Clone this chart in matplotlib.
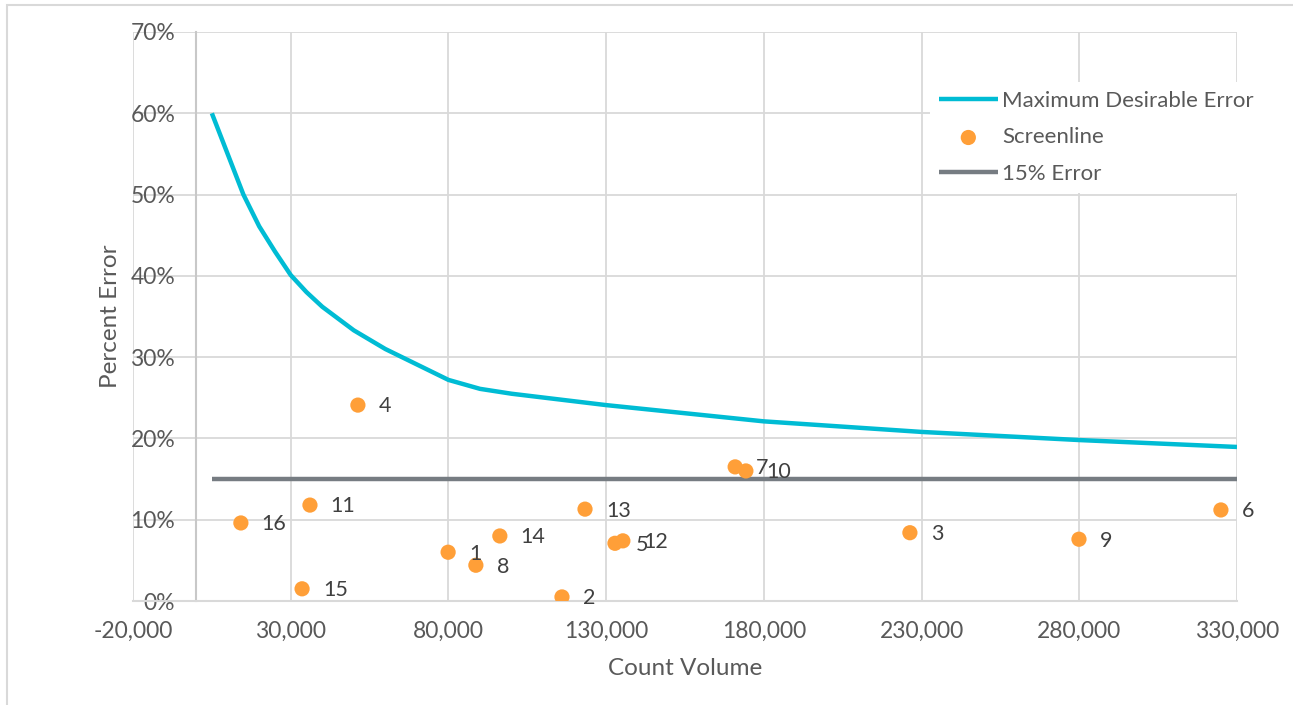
#!/usr/bin/env python3
"""Screenline percent error vs count volume, with the maximum desirable error curve."""

import matplotlib.pyplot as plt
from matplotlib.patches import Rectangle
from matplotlib.ticker import FixedLocator, FuncFormatter, MultipleLocator

plt.rcParams["font.family"] = ["Lato", "DejaVu Sans"]

# Maximum desirable error curve
MDE_VOLUME = [5000, 10000, 15000, 20000, 25000, 30000, 35000, 40000, 50000, 60000,
              70000, 80000, 90000, 100000, 130000, 180000, 230000, 280000, 330000]
MDE_ERROR = [0.600, 0.550, 0.500, 0.461, 0.430, 0.401, 0.380, 0.362, 0.333, 0.310,
             0.291, 0.272, 0.261, 0.255, 0.241, 0.221, 0.208, 0.198, 0.1895]

# 15% error reference line
REF_VOLUME = [5000, 330000]
REF_ERROR = [0.15, 0.15]

# Screenlines
SL_ID = ["1", "2", "3", "4", "5", "6", "7", "8",
         "9", "10", "11", "12", "13", "14", "15", "16"]
SL_VOLUME = [79900, 116000, 226300, 51300, 132800, 324900, 170900, 88700,
             279900, 174300, 36100, 135300, 123300, 96300, 33600, 14200]
SL_ERROR = [0.060, 0.005, 0.084, 0.241, 0.071, 0.112, 0.165, 0.044,
            0.076, 0.160, 0.118, 0.074, 0.113, 0.080, 0.015, 0.096]

X_TICKS = list(range(-20000, 330001, 50000))

CYAN = "#00bcd4"
ORANGE = "#ff9f38"
GREY = "#767c82"
GRID = "#d9d9d9"
TICK_TEXT = "#595959"
LABEL_TEXT = "#404040"


def main():
    fig = plt.figure(figsize=(12.93, 7.05), dpi=100)
    ax = fig.add_axes([133 / 1293, 104 / 705, 1104 / 1293, 569 / 705])

    ax.plot(MDE_VOLUME, MDE_ERROR, color=CYAN, linewidth=3.2,
            solid_capstyle="butt", solid_joinstyle="round",
            label="Maximum Desirable Error", zorder=3)
    ax.scatter(SL_VOLUME, SL_ERROR, s=120, color=ORANGE, edgecolors="none",
               label="Screenline", zorder=4)
    ax.plot(REF_VOLUME, REF_ERROR, color=GREY, linewidth=3.2,
            solid_capstyle="butt", label="15% Error", zorder=3)

    for sid, vol, err in zip(SL_ID, SL_VOLUME, SL_ERROR):
        ax.annotate(sid, (vol, err), xytext=(15, -1), textcoords="offset points",
                    ha="left", va="center", fontsize=15.5, color=LABEL_TEXT, zorder=5)

    ax.set_xlim(-20000, 330000)
    ax.set_ylim(0, 0.70)
    ax.xaxis.set_major_locator(FixedLocator(X_TICKS))
    ax.yaxis.set_major_locator(MultipleLocator(0.10))
    ax.xaxis.set_major_formatter(FuncFormatter(lambda v, _: f"{v:,.0f}"))
    ax.yaxis.set_major_formatter(FuncFormatter(lambda v, _: f"{v * 100:.0f}%"))
    ax.grid(True, color=GRID, linewidth=1.3)
    ax.set_axisbelow(True)

    for side in ("top", "right"):
        ax.spines[side].set_visible(False)
    ax.spines["left"].set_position(("data", 0))
    ax.spines["left"].set_color("#c8c8c8")
    ax.spines["left"].set_linewidth(1.5)
    ax.spines["bottom"].set_color(GRID)
    ax.spines["bottom"].set_linewidth(1.5)

    ax.tick_params(axis="both", length=0, labelsize=16.5, labelcolor=TICK_TEXT)
    ax.tick_params(axis="y", pad=15)
    ax.tick_params(axis="x", pad=14)

    ax.set_xlabel("Count Volume", fontsize=17.5, color=TICK_TEXT, labelpad=12)
    ax.set_ylabel("Percent Error", fontsize=17.5, color=TICK_TEXT)
    ax.yaxis.set_label_coords((121 - 133) / 1104, 0.5)

    leg = ax.legend(loc="upper left", bbox_to_anchor=(930 / 1293, 1 - 82 / 705),
                    bbox_transform=fig.transFigure, frameon=True, fontsize=16,
                    handlelength=2.65, handletextpad=0.2, labelspacing=0.74,
                    borderpad=0.4, borderaxespad=0)
    leg.get_frame().set_facecolor("white")
    leg.get_frame().set_edgecolor("none")
    leg.get_frame().set_alpha(1)
    for t in leg.get_texts():
        t.set_color(TICK_TEXT)

    # chart area border, only its top and left edges fall inside the image
    fig.add_artist(Rectangle((7 / 1293, -0.5), 2, 0.5 + 1 - 5 / 705,
                             transform=fig.transFigure, fill=False,
                             edgecolor=GRID, linewidth=1.5))

    fig.savefig("out.png", dpi=100)


if __name__ == "__main__":
    main()
